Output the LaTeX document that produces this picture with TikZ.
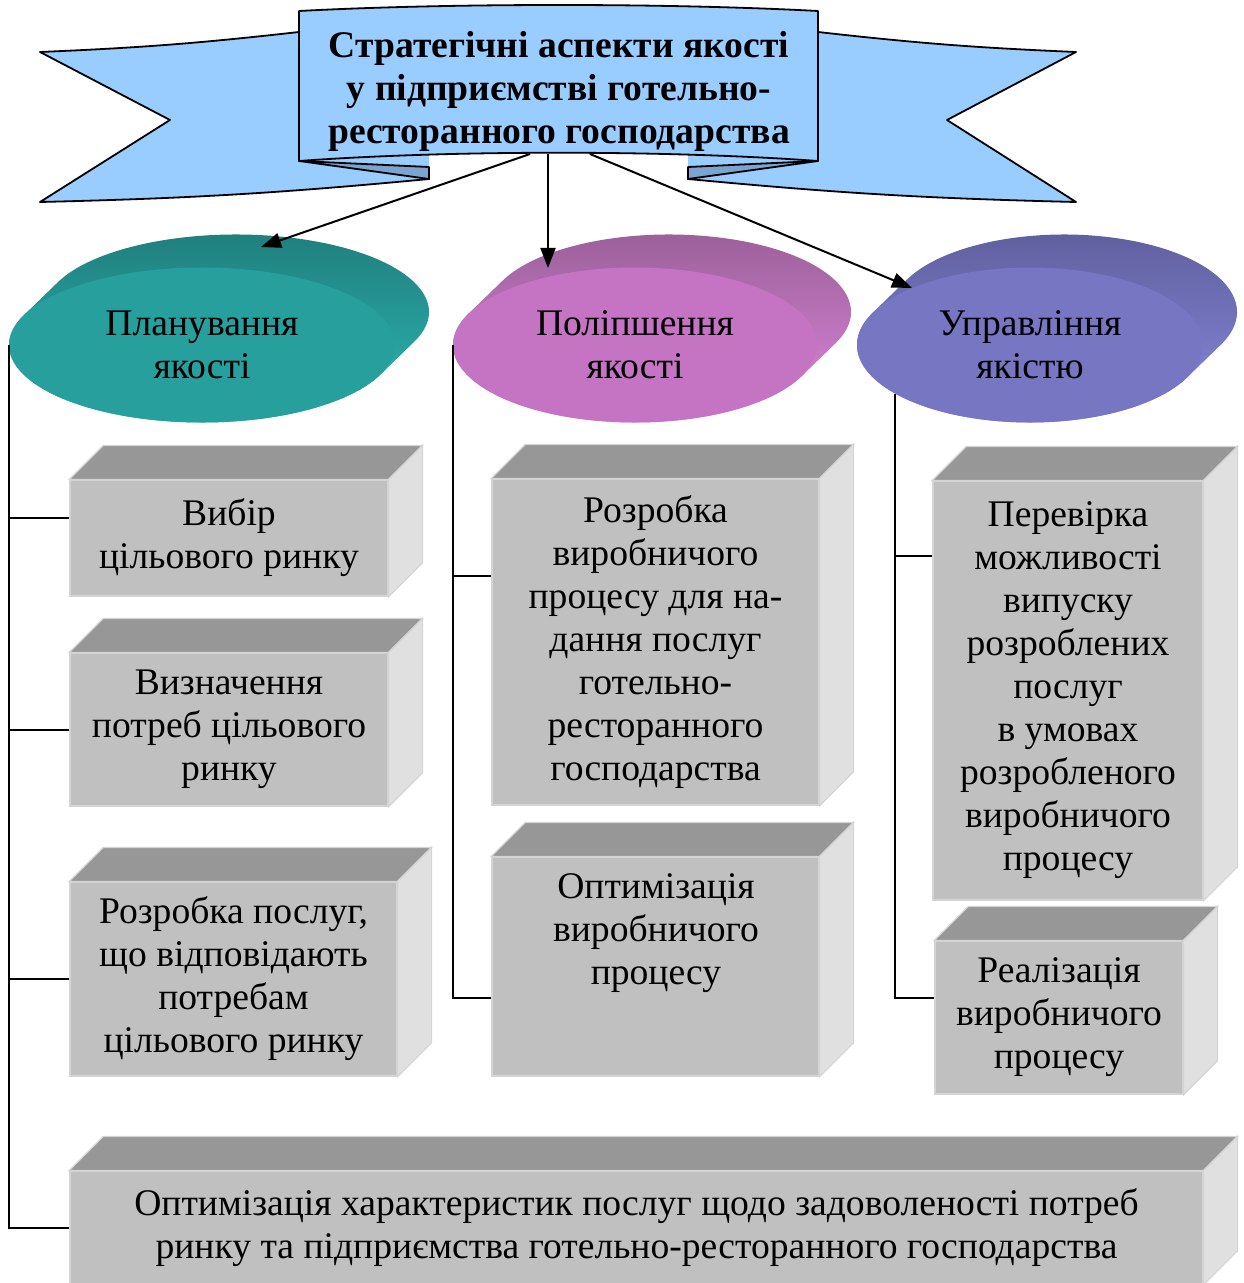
\documentclass[tikz,border=0pt]{standalone}
\usepackage{fontspec}
\setmainfont{Liberation Serif}
\usetikzlibrary{arrows.meta,shapes.geometric}
\definecolor{bannerC}{HTML}{99CCFF}
\definecolor{foldC}{HTML}{7BA4CF}
\definecolor{boxfront}{HTML}{C0C0C0}
\definecolor{boxtop}{HTML}{979797}
\definecolor{boxside}{HTML}{E0E0E0}
\definecolor{boxedge}{HTML}{D4D4D4}
\definecolor{planF}{HTML}{279F9D}
\definecolor{planD}{HTML}{1F7D7B}
\definecolor{planL}{HTML}{2EBAB7}
\definecolor{impF}{HTML}{C474C2}
\definecolor{impD}{HTML}{995E97}
\definecolor{impL}{HTML}{E08AE0}
\definecolor{mgmF}{HTML}{7676C2}
\definecolor{mgmD}{HTML}{5E5E9D}
\definecolor{mgmL}{HTML}{8A8ADF}
\tikzset{
  txt/.style={font=\fontsize{18.8}{21.5}\selectfont, align=center, inner sep=0pt},
  ttl/.style={font=\fontsize{18.8}{21.5}\selectfont\bfseries, align=center, inner sep=0pt},
  front/.style={txt, rectangle, fill=boxfront, draw=boxedge, line width=0.6pt},
  topface/.style={fill=boxtop, draw=boxedge, line width=0.6pt},
  sideface/.style={fill=boxside, draw=boxedge, line width=0.6pt},
  disc/.style={txt, ellipse, inner sep=0pt, minimum height=77.5pt},
  link/.style={line width=1pt},
  arr/.style={line width=1pt, -{Triangle[length=10pt,width=7.5pt]}},
  outline/.style={line width=0.9pt, line join=round},
}
\newcommand\boxfaces[1]{%
  \filldraw[topface] (#1.north west) -- ++(34,-34) -- ([xshift=17pt,yshift=17pt]#1.north east) -- (#1.north east) -- cycle;
  \filldraw[sideface] (#1.north east) -- ([xshift=17pt,yshift=17pt]#1.north east) -- ([xshift=17pt,yshift=17pt]#1.south east) -- (#1.south east) -- cycle;
}
\newcommand\discside[5]{%
  \pgfmathsetmacro\tang{atan(77.5/#3)}
  \shade[top color=#4, middle color=#4!55!#5, bottom color=#5]
    (#1,#2) ++(\tang:#3 and 77.5)
    arc[start angle=\tang, end angle=\tang+180, x radius=#3, y radius=77.5]
    -- ++(34,-33)
    arc[start angle=\tang+180, end angle=\tang+360, x radius=#3, y radius=77.5]
    -- cycle;
}
\begin{document}
\begin{tikzpicture}[x=0.5pt,y=-0.5pt]
\useasboundingbox (0,0) rectangle (1243,1283);

% ---------- banner ----------
\fill[bannerC] (299,32) to[bend left=2] (40,52) -- (170,120) -- (40,202) to[bend right=2] (429,179) -- (429,150) -- (299,150) -- cycle;
\draw[outline] (299,32) to[bend left=2] (40,52) -- (170,120) -- (40,202) to[bend right=2] (429,179) -- (429,167);
\fill[bannerC] (818,32) to[bend right=2] (1076,52) -- (947,120) -- (1076,202) to[bend left=2] (688,179) -- (688,150) -- (818,150) -- cycle;
\draw[outline] (818,32) to[bend right=2] (1076,52) -- (947,120) -- (1076,202) to[bend left=2] (688,179) -- (688,167);
\filldraw[outline, fill=foldC] (299,161) -- (429,167) -- (429,179) -- cycle;
\filldraw[outline, fill=foldC] (818,161) -- (688,167) -- (688,179) -- cycle;
\filldraw[outline, fill=bannerC] (299,11) .. controls (450,3) and (667,3) .. (818,11) -- (818,161) .. controls (667,150) and (450,150) .. (299,161) -- cycle;
\node[ttl] (title) at (559,91) {Стратегічні аспекти якості\\у підприємстві готельно-\\ресторанного господарства};

% ---------- discs ----------
\discside{202}{345}{193}{planD}{planL}
\node[disc, minimum width=193pt, fill=planF] (plan) at (202,345) {Планування\\якості};
\discside{635}{345}{182}{impD}{impL}
\node[disc, minimum width=182pt, fill=impF] (imp) at (635,345) {Поліпшення\\якості};
\discside{1030}{345}{173}{mgmD}{mgmL}
\node[disc, minimum width=173pt, fill=mgmF] (mgm) at (1030,345) {Управління\\якістю};

% ---------- arrows from title ----------
\coordinate (t1) at (530,154);
\coordinate (t2) at (548,154);
\coordinate (t3) at (590,154);
\coordinate (e1) at (261,247);
\coordinate (e2) at (548,268);
\coordinate (e3) at (912,288);
\draw[arr] (t1) -- (e1);
\draw[arr] (t2) -- (e2);
\draw[arr] (t3) -- (e3);

% ---------- boxes ----------
\node[front, minimum width=159pt, minimum height=58pt] (b1) at (229,538) {Вибір\\цільового ринку};
\boxfaces{b1}
\node[front, minimum width=159pt, minimum height=76.5pt] (b2) at (229,729.5) {Визначення\\потреб цільового\\ринку};
\boxfaces{b2}
\node[front, minimum width=163.5pt, minimum height=97pt] (b3) at (233.5,979) {Розробка послуг,\\що відповідають\\потребам\\цільового ринку};
\boxfaces{b3}
\node[front, minimum width=163.5pt, minimum height=163pt] (bA) at (655.5,642) {Розробка\\виробничого\\процесу для на-\\дання послуг\\готельно-\\ресторанного\\господарства};
\boxfaces{bA}
\node[front, minimum width=163.5pt, minimum height=109.5pt] (bB) at (655.5,966.5) {};
\boxfaces{bB}
\node[txt] (bBt) at (656,933) {Оптимізація\\виробничого\\процесу};
\node[front, minimum width=135pt, minimum height=209.5pt] (bC) at (1068,690.5) {Перевірка\\можливості\\випуску\\розроблених\\послуг\\в умовах\\розробленого\\виробничого\\процесу};
\boxfaces{bC}
\node[front, minimum width=124pt, minimum height=76.5pt] (bD) at (1059,1017.5) {Реалізація\\виробничого\\процесу};
\boxfaces{bD}
\node[front, minimum width=566.5pt, minimum height=56.5pt] (bot) at (636.5,1227.5) {Оптимізація характеристик послуг щодо задоволеності потреб\\ринку та підприємства готельно-ресторанного господарства};
\boxfaces{bot}

% ---------- tree connectors ----------
\path ([yshift=10pt]b1.west) coordinate (b1w);
\path (b2.west) coordinate (b2w);
\path (b3.west) coordinate (b3w);
\path (bot.west) coordinate (botw);
\draw[link] (plan.west) |- (botw);
\draw[link] (plan.west |- b1w) -- (b1w);
\draw[link] (plan.west |- b2w) -- (b2w);
\draw[link] (plan.west |- b3w) -- (b3w);

\path ([yshift=33pt]bA.west) coordinate (bAw);
\path ([yshift=-15.75pt]bB.west) coordinate (bBw);
\draw[link] (imp.west) |- (bBw);
\draw[link] (imp.west |- bAw) -- (bAw);

\path ([yshift=67.25pt]bC.west) coordinate (bCw);
\path ([yshift=9.75pt]bD.west) coordinate (bDw);
\draw[link] (mgm.200) |- (bDw);
\draw[link] (mgm.200 |- bCw) -- (bCw);
\end{tikzpicture}
\end{document}
